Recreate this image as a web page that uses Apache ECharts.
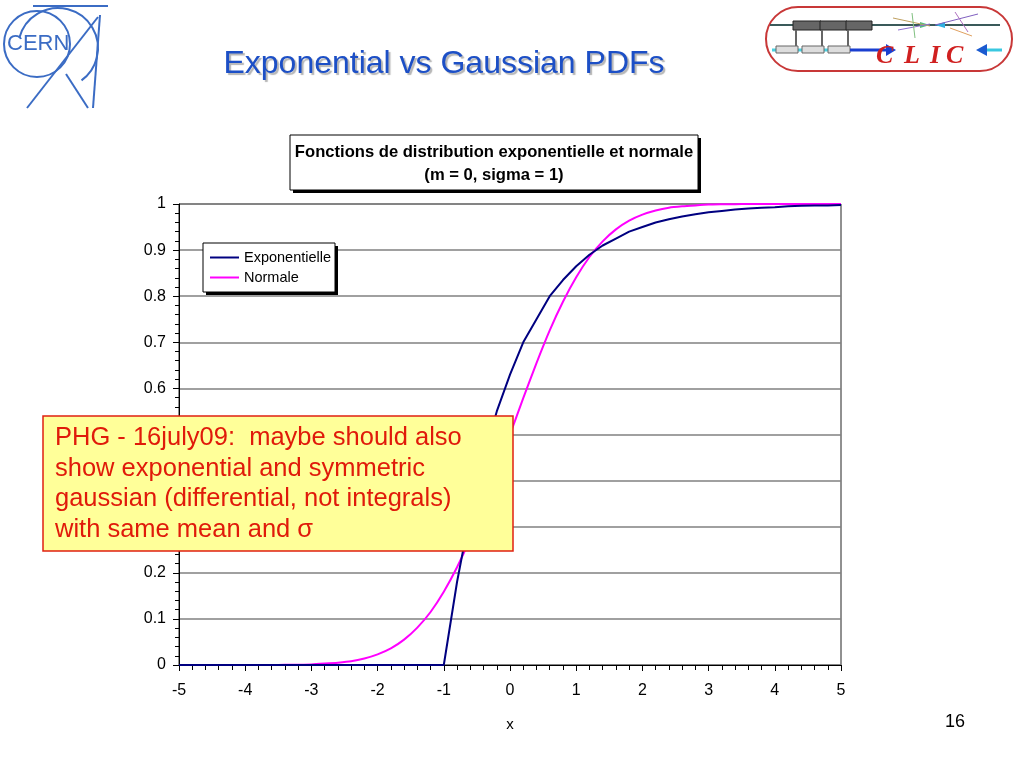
<!DOCTYPE html>
<html>
<head>
<meta charset="utf-8">
<script src="https://cdn.jsdelivr.net/npm/echarts@6/dist/echarts.min.js"></script>
<style>
html,body{margin:0;padding:0;background:#fff;}
#chart{width:1024px;height:768px;}
</style>
</head>
<body>
<div id="chart"></div>
<script>
// ---- data ----
const xValues = [-5,-4.8,-4.6,-4.4,-4.2,-4,-3.8,-3.6,-3.4,-3.2,-3,-2.8,-2.6,-2.4,-2.2,-2,-1.8,-1.6,-1.4,-1.2,-1,
  -0.8,-0.6,-0.4,-0.2,0,0.2,0.4,0.6,0.8,1,1.2,1.4,1.6,1.8,2,2.2,2.4,2.6,2.8,3,3.2,3.4,3.6,3.8,4,4.2,4.4,4.6,4.8,5];
const exponentielle = [0,0,0,0,0,0,0,0,0,0,0,0,0,0,0,0,0,0,0,0,0,
  0.18,0.33,0.45,0.55,0.63,0.70,0.75,0.80,0.835,0.865,0.89,0.91,0.925,0.94,0.95,0.96,0.967,0.973,0.978,0.982,
  0.985,0.988,0.990,0.992,0.993,0.995,0.996,0.997,0.997,0.998];
const normale = [0,0,0,0,0,0,0,0,0.0003,0.0007,0.0013,0.003,0.005,0.008,0.014,0.023,0.036,0.055,0.081,0.115,0.159,
  0.212,0.274,0.345,0.421,0.5,0.579,0.655,0.726,0.788,0.841,0.885,0.919,0.945,0.964,0.977,0.986,0.992,0.995,0.997,0.9987,
  0.9993,0.9997,1,1,1,1,1,1,1,1];
const seriesNames = ['Exponentielle','Normale'];
const slideTitle = 'Exponential vs Gaussian PDFs';
const chartTitleLines = ['Fonctions de distribution exponentielle et normale','(m = 0, sigma = 1)'];
const noteLines = ['PHG - 16july09:  maybe should also','show exponential and symmetric','gaussian (differential, not integrals)','with same mean and σ'];
const pageNumber = '16';

const pair = (ys) => xValues.map((x,i) => [x, ys[i]]);

const chart = echarts.init(document.getElementById('chart'), null, {renderer:'canvas'});
const FONT = 'Liberation Sans, Arial, sans-serif';
const BLUE = '#3b6cc4';

const option = {
  backgroundColor:'#ffffff',
  animation:false,
  title:[
    {
      text:slideTitle,
      left:439, top:43, textAlign:'center',
      textStyle:{fontFamily:FONT, fontSize:32, fontWeight:'normal', color:'#1c4fc6',
        textShadowColor:'rgba(120,120,120,0.55)', textShadowOffsetX:2, textShadowOffsetY:2, textShadowBlur:1}
    },
    {
      text:pageNumber, left:950, top:708, textAlign:'center',
      textStyle:{fontFamily:FONT, fontSize:18, fontWeight:'normal', color:'#000'}
    }
  ],
  legend:{
    data:seriesNames,
    orient:'vertical', left:203, top:243,
    padding:[7,2,7,7], itemGap:5,
    itemWidth:29, itemHeight:2, icon:'rect',
    textStyle:{fontFamily:FONT, fontSize:14.5, color:'#000'}
  },
  grid:{left:179, right:183, top:204, bottom:103, show:true, borderColor:'#222', borderWidth:1, backgroundColor:'transparent'},
  xAxis:{
    type:'value', min:-5, max:5, interval:1,
    name:'x', nameLocation:'middle', nameGap:52,
    nameTextStyle:{fontFamily:FONT, fontSize:15, color:'#000'},
    axisLine:{show:true, onZero:false, lineStyle:{color:'#000', width:1}},
    axisTick:{show:true, inside:false, length:6, lineStyle:{color:'#000'}},
    minorTick:{show:true, splitNumber:5, length:5, lineStyle:{color:'#000'}},
    splitLine:{show:false},
    axisLabel:{fontFamily:FONT, fontSize:16, color:'#000', margin:18, formatter:(v)=>String(v)}
  },
  yAxis:{
    type:'value', min:0, max:1, interval:0.1,
    axisLine:{show:true, onZero:false, lineStyle:{color:'#000', width:1}},
    axisTick:{show:true, inside:false, length:6, lineStyle:{color:'#000'}},
    minorTick:{show:true, splitNumber:5, length:4, lineStyle:{color:'#000'}},
    splitLine:{show:true, lineStyle:{color:'#808080', width:1.5}},
    axisLabel:{fontFamily:FONT, fontSize:16, color:'#000', margin:13,
      formatter:(v)=>String(Math.round(v*10)/10)}
  },
  series:[
    {name:seriesNames[0], type:'line', data:pair(exponentielle), symbol:'none', smooth:false,
      lineStyle:{color:'#000080', width:2}, itemStyle:{color:'#000080'}, z:3},
    {name:seriesNames[1], type:'line', data:pair(normale), symbol:'none', smooth:0.2,
      lineStyle:{color:'#ff00ff', width:2}, itemStyle:{color:'#ff00ff'}, z:2}
  ],
  graphic:[
    // chart title box
    {type:'rect', z:5, shape:{x:293, y:138, width:408, height:55}, style:{fill:'#000'}},
    {type:'rect', z:5, z2:1, shape:{x:290, y:135, width:408, height:55}, style:{fill:'#fff', stroke:'#000', lineWidth:1}},
    {type:'text', z:5, z2:2, x:494, y:152, style:{text:chartTitleLines[0], fontFamily:FONT, fontSize:16.6, fontWeight:'bold', fill:'#000', align:'center', verticalAlign:'middle'}},
    {type:'text', z:5, z2:2, x:494, y:175, style:{text:chartTitleLines[1], fontFamily:FONT, fontSize:16.6, fontWeight:'bold', fill:'#000', align:'center', verticalAlign:'middle'}},
    // legend box (behind the legend component)
    {type:'rect', z:3, shape:{x:206, y:246, width:132, height:49}, style:{fill:'#000'}},
    {type:'rect', z:3, z2:1, shape:{x:203, y:243, width:132, height:49}, style:{fill:'#fff', stroke:'#000', lineWidth:1}},
    // note box
    {type:'rect', zlevel:1, shape:{x:43, y:416, width:470, height:135},
      style:{fill:'#ffff99', stroke:'#e02010', lineWidth:1.5}},
    {type:'text', zlevel:1, z2:2, x:55, y:423,
      style:{text:noteLines.join('\n'), fontFamily:FONT, fontSize:25.5, lineHeight:30.5, fill:'#e01a0a'}},
    // CERN logo
    {type:'circle', shape:{cx:37, cy:44, r:33}, style:{fill:'none', stroke:BLUE, lineWidth:2}},
    {type:'arc', shape:{cx:58, cy:48, r:40, startAngle:Math.PI*1.08, endAngle:Math.PI*2.3}, style:{fill:'none', stroke:BLUE, lineWidth:2}},
    {type:'line', shape:{x1:33, y1:6, x2:108, y2:6}, style:{stroke:BLUE, lineWidth:2}},
    {type:'line', shape:{x1:100, y1:15, x2:93, y2:108}, style:{stroke:BLUE, lineWidth:2}},
    {type:'line', shape:{x1:98, y1:17, x2:27, y2:108}, style:{stroke:BLUE, lineWidth:2}},
    {type:'line', shape:{x1:66, y1:74, x2:88, y2:108}, style:{stroke:BLUE, lineWidth:2}},
    {type:'text', x:7, y:33, style:{text:'CERN', fontFamily:FONT, fontSize:22, fill:BLUE}},
    // CLIC logo
    {type:'rect', shape:{x:766, y:7, width:246, height:64, r:32}, style:{fill:'#fff', stroke:'#c83838', lineWidth:2}},
    {type:'line', shape:{x1:770, y1:25, x2:1000, y2:25}, style:{stroke:'#3a5a5a', lineWidth:2}},
    {type:'rect', shape:{x:793, y:21, width:28, height:9}, style:{fill:'#666', stroke:'#222'}},
    {type:'rect', shape:{x:820, y:21, width:27, height:9}, style:{fill:'#666', stroke:'#222'}},
    {type:'rect', shape:{x:846, y:21, width:26, height:9}, style:{fill:'#666', stroke:'#222'}},
    {type:'line', shape:{x1:796, y1:30, x2:796, y2:46}, style:{stroke:'#666', lineWidth:2}},
    {type:'line', shape:{x1:822, y1:30, x2:822, y2:46}, style:{stroke:'#666', lineWidth:2}},
    {type:'line', shape:{x1:848, y1:30, x2:848, y2:46}, style:{stroke:'#666', lineWidth:2}},
    {type:'line', shape:{x1:772, y1:50, x2:850, y2:50}, style:{stroke:'#4ad0e0', lineWidth:3}},
    {type:'rect', shape:{x:776, y:46, width:22, height:7}, style:{fill:'#ddd', stroke:'#666'}},
    {type:'rect', shape:{x:802, y:46, width:22, height:7}, style:{fill:'#ddd', stroke:'#666'}},
    {type:'rect', shape:{x:828, y:46, width:22, height:7}, style:{fill:'#ddd', stroke:'#666'}},
    {type:'line', shape:{x1:850, y1:50, x2:888, y2:50}, style:{stroke:'#1a3fd0', lineWidth:3}},
    {type:'polygon', shape:{points:[[886,44],[896,50],[886,56]]}, style:{fill:'#1a3fd0'}},
    {type:'line', shape:{x1:985, y1:50, x2:1002, y2:50}, style:{stroke:'#3ac8e0', lineWidth:3}},
    {type:'polygon', shape:{points:[[987,44],[976,50],[987,56]]}, style:{fill:'#1a5ad0'}},
    {type:'polygon', shape:{points:[[920,22],[930,25],[920,28]]}, style:{fill:'#50c080'}},
    {type:'polygon', shape:{points:[[945,22],[935,25],[945,28]]}, style:{fill:'#30b0e0'}},
    {type:'line', shape:{x1:893, y1:18, x2:930, y2:26}, style:{stroke:'#c0a060', lineWidth:1}},
    {type:'line', shape:{x1:898, y1:30, x2:930, y2:24}, style:{stroke:'#9070d0', lineWidth:1}},
    {type:'line', shape:{x1:912, y1:13, x2:915, y2:38}, style:{stroke:'#80c080', lineWidth:1}},
    {type:'line', shape:{x1:935, y1:25, x2:978, y2:14}, style:{stroke:'#8060c0', lineWidth:1}},
    {type:'line', shape:{x1:950, y1:28, x2:972, y2:36}, style:{stroke:'#e0a060', lineWidth:1}},
    {type:'line', shape:{x1:955, y1:12, x2:968, y2:32}, style:{stroke:'#b070c0', lineWidth:1}},
    {type:'text', x:876, y:43, style:{text:'C', fontFamily:'Liberation Serif, serif', fontSize:26, fontWeight:'bold', fontStyle:'italic', fill:'#d02020'}},
    {type:'text', x:904, y:43, style:{text:'L', fontFamily:'Liberation Serif, serif', fontSize:26, fontWeight:'bold', fontStyle:'italic', fill:'#d02020'}},
    {type:'text', x:930, y:43, style:{text:'I', fontFamily:'Liberation Serif, serif', fontSize:26, fontWeight:'bold', fontStyle:'italic', fill:'#d02020'}},
    {type:'text', x:946, y:43, style:{text:'C', fontFamily:'Liberation Serif, serif', fontSize:26, fontWeight:'bold', fontStyle:'italic', fill:'#d02020'}}
  ]
};
chart.setOption(option);
</script>
</body>
</html>
